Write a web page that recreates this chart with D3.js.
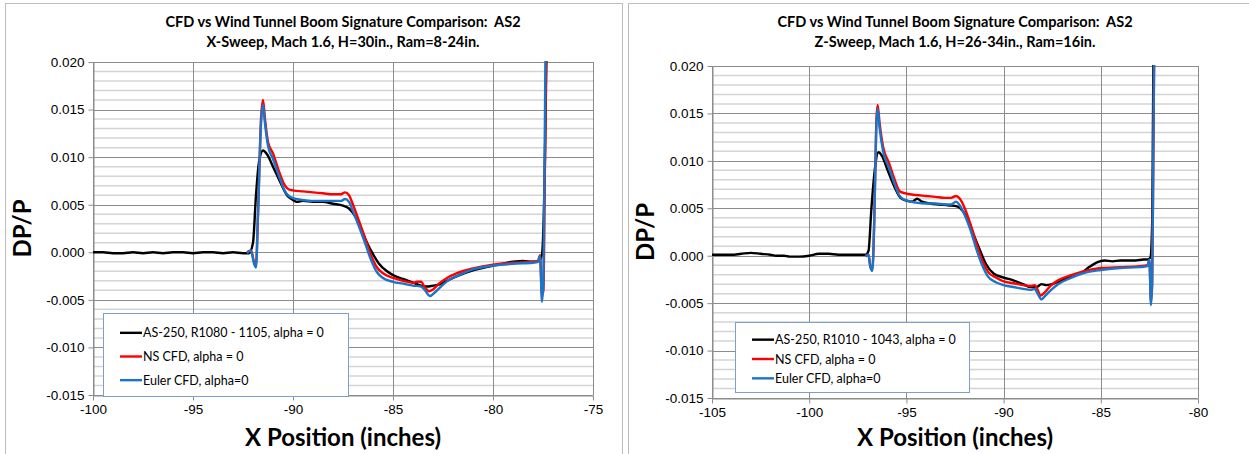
<!DOCTYPE html>
<html>
<head>
<meta charset="utf-8">
<script src="https://cdn.jsdelivr.net/npm/d3@7"></script>
<style>
  body { margin: 0; background: #fff; }
  svg { display: block; }
  text { white-space: pre; }
</style>
</head>
<body>
<div id="container"></div>
<script>
/* DATA: [x inches, DP/P] */
// X-sweep panel
const xSweepWT = [[-100, 0.0000], [-99.5, 0.0000], [-99, -0.0001], [-98.5, -0.0001], [-98, 0.0000], [-97.5, -0.0001], [-97, 0.0000], [-96.5, -0.0001], [-96, 0.0000], [-95.5, 0.0000], [-95, -0.0001], [-94.5, 0.0000], [-94, 0.0000], [-93.5, -0.0001], [-93, 0.0000], [-92.5, -0.0001], [-92.2, -0.0001], [-92.0, 0.0010], [-91.85, 0.0060], [-91.7, 0.0095], [-91.5, 0.0107], [-91.3, 0.0103], [-91.0, 0.0090], [-90.6, 0.0072], [-90.3, 0.0060], [-90.0, 0.0055], [-89.8, 0.0053], [-89.5, 0.0054], [-89, 0.0053], [-88.5, 0.0053], [-88, 0.0051], [-87.5, 0.0049], [-87.2, 0.0046], [-86.9, 0.0038], [-86.6, 0.0025], [-86.3, 0.0010], [-86.0, -0.0002], [-85.7, -0.0012], [-85.3, -0.0020], [-85, -0.0024], [-84.5, -0.0028], [-84, -0.0032], [-83.6, -0.0035], [-83.3, -0.0036], [-83.0, -0.0035], [-82.7, -0.0034], [-82.3, -0.0030], [-81.8, -0.0025], [-81, -0.0019], [-80, -0.0014], [-79.5, -0.0012], [-79, -0.0010], [-78.5, -0.0009], [-78, -0.0010], [-77.7, -0.0009], [-77.55, -0.0002], [-77.4, 0.0100], [-77.3, 0.0250]];
const xSweepNS = [[-92.3, 0.0000], [-92.1, 0.0002], [-91.95, -0.0010], [-91.85, -0.0013], [-91.75, 0.0040], [-91.6, 0.0140], [-91.5, 0.0160], [-91.4, 0.0140], [-91.25, 0.0116], [-91.0, 0.0104], [-90.7, 0.0085], [-90.4, 0.0070], [-90.2, 0.0066], [-90.0, 0.0065], [-89.5, 0.0064], [-89, 0.0063], [-88.5, 0.0062], [-88, 0.0061], [-87.6, 0.0061], [-87.4, 0.0063], [-87.2, 0.0060], [-87.0, 0.0050], [-86.7, 0.0033], [-86.4, 0.0015], [-86.1, -0.0003], [-85.8, -0.0016], [-85.5, -0.0022], [-85.0, -0.0027], [-84.5, -0.0030], [-84.0, -0.0032], [-83.8, -0.0031], [-83.6, -0.0031], [-83.4, -0.0037], [-83.2, -0.0041], [-83.0, -0.0039], [-82.7, -0.0033], [-82.3, -0.0027], [-81.8, -0.0022], [-81, -0.0017], [-80, -0.0013], [-79, -0.0011], [-78, -0.0010], [-77.75, -0.0009], [-77.65, -0.0003], [-77.55, -0.0045], [-77.48, -0.0040], [-77.4, 0.0100], [-77.32, 0.0250]];
const xSweepEuler = [[-92.3, -0.0001], [-92.1, 0.0002], [-91.95, -0.0012], [-91.85, -0.0016], [-91.75, 0.0040], [-91.6, 0.0135], [-91.5, 0.0155], [-91.4, 0.0135], [-91.25, 0.0112], [-91.0, 0.0098], [-90.7, 0.0080], [-90.4, 0.0064], [-90.2, 0.0059], [-90.0, 0.0057], [-89.5, 0.0055], [-89, 0.0054], [-88.5, 0.0054], [-88, 0.0054], [-87.6, 0.0054], [-87.4, 0.0056], [-87.2, 0.0053], [-87.0, 0.0043], [-86.7, 0.0027], [-86.4, 0.0010], [-86.1, -0.0008], [-85.8, -0.0021], [-85.5, -0.0027], [-85.0, -0.0031], [-84.5, -0.0033], [-84.0, -0.0035], [-83.6, -0.0036], [-83.4, -0.0040], [-83.15, -0.0046], [-82.9, -0.0042], [-82.6, -0.0036], [-82.2, -0.0029], [-81.7, -0.0024], [-81, -0.0018], [-80, -0.0014], [-79, -0.0012], [-78, -0.0011], [-77.75, -0.0010], [-77.65, -0.0004], [-77.55, -0.0052], [-77.48, -0.0030], [-77.42, 0.0100], [-77.36, 0.0250]];

// Z-sweep panel
const zSweepWT = [[-105, 0.0001], [-104.5, 0.0001], [-104, 0.0001], [-103.5, 0.0002], [-103, 0.0003], [-102.5, 0.0002], [-102, 0.0001], [-101.7, 0.0000], [-101.3, 0.0000], [-101, -0.0001], [-100.5, -0.0001], [-100, 0.0000], [-99.5, 0.0002], [-99, 0.0002], [-98.5, 0.0001], [-98, 0.0001], [-97.5, 0.0001], [-97.1, 0.0001], [-96.95, 0.0005], [-96.8, 0.0050], [-96.6, 0.0095], [-96.45, 0.0109], [-96.25, 0.0105], [-96.0, 0.0092], [-95.6, 0.0072], [-95.3, 0.0061], [-95.0, 0.0058], [-94.7, 0.0057], [-94.45, 0.0060], [-94.2, 0.0057], [-93.8, 0.0055], [-93.3, 0.0054], [-92.8, 0.0053], [-92.4, 0.0052], [-92.1, 0.0047], [-91.8, 0.0036], [-91.5, 0.0020], [-91.2, 0.0005], [-90.9, -0.0009], [-90.5, -0.0019], [-90, -0.0023], [-89.5, -0.0026], [-89, -0.0030], [-88.6, -0.0033], [-88.3, -0.0033], [-88.05, -0.0030], [-87.8, -0.0031], [-87.5, -0.0030], [-87, -0.0026], [-86.5, -0.0022], [-86, -0.0018], [-85.6, -0.0012], [-85.2, -0.0007], [-84.8, -0.0005], [-84.4, -0.0006], [-84, -0.0005], [-83.6, -0.0005], [-83.2, -0.0005], [-82.8, -0.0004], [-82.6, -0.0004], [-82.45, -0.0002], [-82.35, 0.0040], [-82.28, 0.0250]];
const zSweepNS = [[-97.1, 0.0000], [-96.95, 0.0001], [-96.85, -0.0012], [-96.75, -0.0014], [-96.65, 0.0040], [-96.55, 0.0140], [-96.48, 0.0159], [-96.38, 0.0140], [-96.2, 0.0115], [-95.9, 0.0098], [-95.6, 0.0080], [-95.35, 0.0068], [-95.1, 0.0066], [-94.5, 0.0064], [-94, 0.0063], [-93.5, 0.0062], [-93, 0.0061], [-92.7, 0.0061], [-92.45, 0.0063], [-92.25, 0.0060], [-92.0, 0.0050], [-91.7, 0.0033], [-91.4, 0.0013], [-91.1, -0.0005], [-90.8, -0.0017], [-90.4, -0.0023], [-90, -0.0027], [-89.5, -0.0029], [-89, -0.0031], [-88.6, -0.0032], [-88.4, -0.0031], [-88.25, -0.0036], [-88.1, -0.0042], [-87.9, -0.0039], [-87.6, -0.0032], [-87.2, -0.0026], [-86.6, -0.0021], [-86, -0.0017], [-85, -0.0013], [-84, -0.0012], [-83, -0.0011], [-82.6, -0.0010], [-82.5, -0.0005], [-82.42, -0.0048], [-82.36, -0.0030], [-82.3, 0.0100], [-82.24, 0.0250]];
const zSweepEuler = [[-97.1, -0.0001], [-96.95, 0.0001], [-96.85, -0.0012], [-96.75, -0.0016], [-96.65, 0.0040], [-96.55, 0.0135], [-96.48, 0.0155], [-96.38, 0.0135], [-96.2, 0.0110], [-95.9, 0.0093], [-95.6, 0.0075], [-95.35, 0.0063], [-95.1, 0.0059], [-94.5, 0.0056], [-94, 0.0055], [-93.5, 0.0055], [-93, 0.0054], [-92.7, 0.0054], [-92.45, 0.0057], [-92.25, 0.0053], [-92.0, 0.0043], [-91.7, 0.0027], [-91.4, 0.0007], [-91.1, -0.0010], [-90.8, -0.0022], [-90.4, -0.0028], [-90, -0.0031], [-89.5, -0.0033], [-89, -0.0035], [-88.6, -0.0036], [-88.4, -0.0035], [-88.25, -0.0040], [-88.05, -0.0046], [-87.85, -0.0042], [-87.55, -0.0036], [-87.2, -0.0030], [-86.6, -0.0024], [-86, -0.0019], [-85, -0.0015], [-84, -0.0013], [-83, -0.0012], [-82.6, -0.0011], [-82.5, -0.0004], [-82.42, -0.0052], [-82.36, -0.0030], [-82.3, 0.0100], [-82.24, 0.0250]];

const yTicks = [0.020, 0.015, 0.010, 0.005, 0.000, -0.005, -0.010, -0.015];
const xTicksLeft = [-100, -95, -90, -85, -80, -75];
const xTicksRight = [-105, -100, -95, -90, -85, -80];
const seriesColors = ["#000000", "#ff0000", "#1a75c9"];

/* CONSTANTS */
const width = 1249, height = 454;

const panels = [
  {
    box: [5, 3, 617, 460],
    plot: { left: 93, right: 593, top: 62, bottom: 395 },
    title: ["CFD vs Wind Tunnel Boom Signature Comparison:  AS2", "X-Sweep, Mach 1.6, H=30in., Ram=8-24in."],
    xDomain: [-100, -75], xTicks: xTicksLeft,
    series: [xSweepWT, xSweepNS, xSweepEuler],
    names: ["AS-250, R1080 - 1105, alpha = 0", "NS CFD, alpha = 0", "Euler CFD, alpha=0"],
    legend: { x: 103, y: 313, w: 245, h: 83 }
  },
  {
    box: [628, 3, 630, 460],
    plot: { left: 712, right: 1198, top: 66, bottom: 398 },
    title: ["CFD vs Wind Tunnel Boom Signature Comparison:  AS2", "Z-Sweep, Mach 1.6, H=26-34in., Ram=16in."],
    xDomain: [-105, -80], xTicks: xTicksRight,
    series: [zSweepWT, zSweepNS, zSweepEuler],
    names: ["AS-250, R1010 - 1043, alpha = 0", "NS CFD, alpha = 0", "Euler CFD, alpha=0"],
    legend: { x: 735, y: 322, w: 234, h: 70 }
  }
];

const svg = d3.select("#container")
  .append("svg")
  .attr("width", width)
  .attr("height", height);

panels.forEach((p, i) => {
  const g = svg.append("g");

  // chart area frame
  g.append("rect")
    .attr("x", p.box[0] + 0.5).attr("y", p.box[1] + 0.5)
    .attr("width", p.box[2]).attr("height", p.box[3])
    .attr("fill", "#fff").attr("stroke", "#bdbdbd");

  /* SCALES */
  const xScale = d3.scaleLinear().domain(p.xDomain).range([p.plot.left, p.plot.right]);
  const yScale = d3.scaleLinear().domain([-0.015, 0.020]).range([p.plot.bottom, p.plot.top]);

  // minor horizontal gridlines every 0.001
  const minor = d3.range(-15, 21).map(v => v / 1000).filter(v => Math.round(v * 1000) % 5 !== 0);
  g.append("g").selectAll("line").data(minor).join("line")
    .attr("x1", p.plot.left).attr("x2", p.plot.right)
    .attr("y1", d => yScale(d)).attr("y2", d => yScale(d))
    .attr("stroke", "#d4d4d4").attr("stroke-width", 1.5);

  // major gridlines
  g.append("g").selectAll("line").data(yTicks).join("line")
    .attr("x1", p.plot.left).attr("x2", p.plot.right)
    .attr("y1", d => Math.round(yScale(d)) + 0.5).attr("y2", d => Math.round(yScale(d)) + 0.5)
    .attr("stroke", "#8c8c8c");
  g.append("g").selectAll("line").data(p.xTicks).join("line")
    .attr("x1", d => Math.round(xScale(d)) + 0.5).attr("x2", d => Math.round(xScale(d)) + 0.5)
    .attr("y1", p.plot.top).attr("y2", p.plot.bottom)
    .attr("stroke", "#8c8c8c");

  // axes
  const yAxis = d3.axisLeft(yScale).tickValues(yTicks).tickFormat(d => d.toFixed(3).replace("-0.000", "0.000")).tickSizeInner(5).tickSizeOuter(0).tickPadding(4);
  const ya = g.append("g").attr("transform", `translate(${p.plot.left + 0.5},0)`).call(yAxis);
  const xAxis = d3.axisBottom(xScale).tickValues(p.xTicks).tickFormat(d => String(d)).tickSizeInner(5).tickSizeOuter(0).tickPadding(4);
  const xa = g.append("g").attr("transform", `translate(0,${p.plot.bottom + 0.5})`).call(xAxis);
  [ya, xa].forEach(a => {
    a.select(".domain").attr("stroke", "#8c8c8c");
    a.selectAll(".tick line").attr("stroke", "#8c8c8c");
    a.selectAll("text").attr("fill", "#000").attr("font-family", "Liberation Sans, Arial, sans-serif").attr("font-size", 13.5);
  });

  // lines
  const clipId = "clip" + i;
  g.append("clipPath").attr("id", clipId).append("rect")
    .attr("x", p.plot.left).attr("y", p.plot.top - 1)
    .attr("width", p.plot.right - p.plot.left).attr("height", p.plot.bottom - p.plot.top + 2);
  const line = d3.line().x(d => xScale(d[0])).y(d => yScale(d[1])).curve(d3.curveMonotoneX);
  g.append("g").attr("clip-path", `url(#${clipId})`)
    .selectAll("path").data(p.series).join("path")
    .attr("d", line)
    .attr("fill", "none")
    .attr("stroke", (d, k) => seriesColors[k])
    .attr("stroke-width", 2.4)
    .attr("stroke-linejoin", "round");

  // titles
  const cx = (p.plot.left + p.plot.right) / 2;
  g.append("g").selectAll("text").data(p.title).join("text")
    .attr("x", cx).attr("y", (d, k) => 27 + k * 20)
    .attr("text-anchor", "middle")
    .attr("font-family", "Lato, sans-serif").attr("font-weight", "bold").attr("font-size", 14.5)
    .text(d => d);

  g.append("text")
    .attr("transform", `translate(${p.box[0] + 26},${(p.plot.top + p.plot.bottom) / 2}) rotate(-90)`)
    .attr("text-anchor", "middle")
    .attr("font-family", "Lato, sans-serif").attr("font-weight", "bold").attr("font-size", 24)
    .text("DP/P");

  g.append("text")
    .attr("x", cx).attr("y", 446)
    .attr("text-anchor", "middle")
    .attr("font-family", "Lato, sans-serif").attr("font-weight", "bold").attr("font-size", 24)
    .text("X Position (inches)");

  // legend
  const L = p.legend;
  const lg = g.append("g").attr("transform", `translate(${L.x},${L.y})`);
  lg.append("rect").attr("x", 0.5).attr("y", 0.5).attr("width", L.w).attr("height", L.h)
    .attr("fill", "#fff").attr("stroke", "#7ba0cd");
  const step = (L.h - 12) / 3;
  const items = lg.selectAll("g.item").data(p.names).join("g")
    .attr("class", "item")
    .attr("transform", (d, k) => `translate(0,${12 + step * k + step / 2 - 4})`);
  items.append("line").attr("x1", 17).attr("x2", 39)
    .attr("stroke", (d, k) => seriesColors[k]).attr("stroke-width", 2.4);
  items.append("text").attr("x", 40).attr("y", 4.5)
    .attr("font-family", "Lato, sans-serif").attr("font-size", 12.5)
    .text(d => d);
});
</script>
</body>
</html>
